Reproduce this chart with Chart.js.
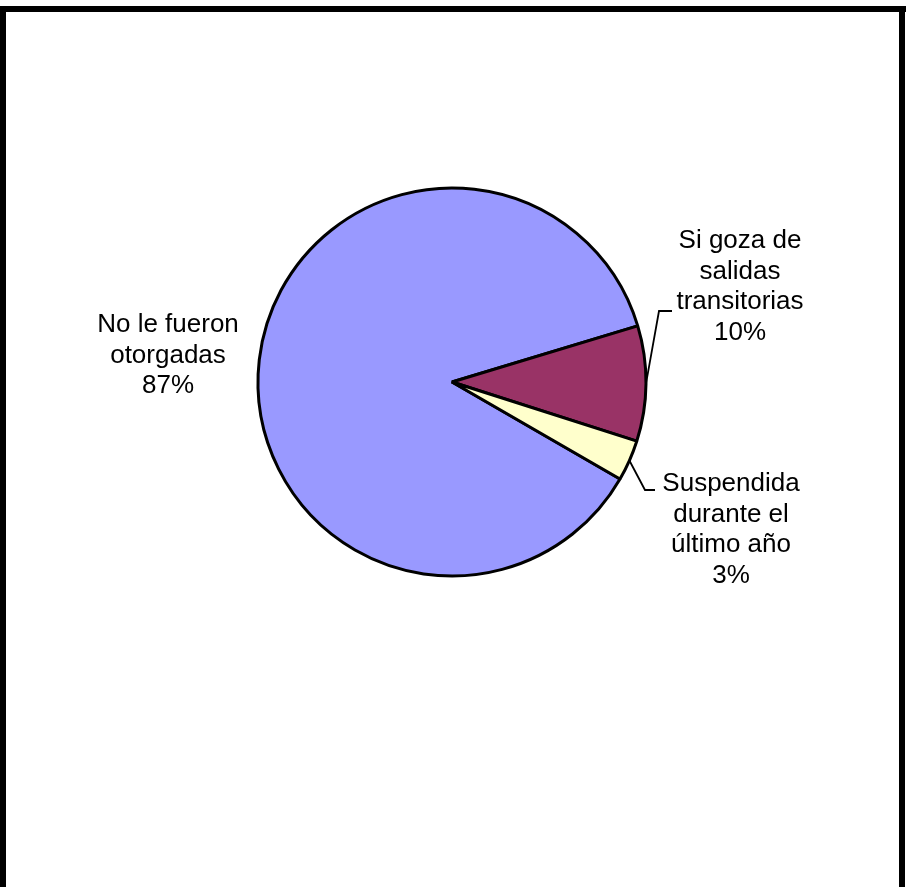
<!DOCTYPE html>
<html>
<head>
<meta charset="utf-8">
<script src="https://cdn.jsdelivr.net/npm/chart.js@4"></script>
<style>
  html, body { margin: 0; padding: 0; background: #ffffff; }
  #wrap { position: absolute; left: 0; top: 0; width: 906px; height: 887px; }
</style>
</head>
<body>
<div id="wrap"><canvas id="c" width="906" height="887"></canvas></div>
<script>
// ---- data ----
const categories = [
  "No le fueron otorgadas",
  "Si goza de salidas transitorias",
  "Suspendida durante el último año"
];
const labelLines = [
  ["No le fueron", "otorgadas"],
  ["Si goza de", "salidas", "transitorias"],
  ["Suspendida", "durante el", "último año"]
];
const values = [87.0, 9.6, 3.4];
const colors = ["#9999FF", "#993366", "#FFFFCC"];

// ---- label layout (positions relative to pie center) ----
const labelLayout = [
  { dx: -284, dy: -50, leader: null },
  { dx: 288, dy: -134, leader: { elbowDx: 207, elbowDy: -71, endDx: 220 } },
  { dx: 279, dy: 109, leader: { elbowDx: 193, elbowDy: 108, endDx: 203 } }
];

const framePlugin = {
  id: 'frame',
  beforeDraw(chart) {
    const ctx = chart.ctx;
    ctx.save();
    ctx.fillStyle = '#ffffff';
    ctx.fillRect(0, 0, chart.width, chart.height);
    ctx.fillStyle = '#000000';
    ctx.fillRect(0, 6, 906, 6);      // top
    ctx.fillRect(0, 6, 6, 881);      // left
    ctx.fillRect(899, 6, 6, 881);    // right
    ctx.restore();
  }
};

const labelPlugin = {
  id: 'pieLabels',
  afterDatasetsDraw(chart) {
    const ctx = chart.ctx;
    const meta = chart.getDatasetMeta(0);
    const total = values.reduce((a, b) => a + b, 0);
    ctx.save();
    ctx.font = '26px "Liberation Sans", Arial, sans-serif';
    ctx.fillStyle = '#000';
    ctx.textAlign = 'center';
    ctx.textBaseline = 'alphabetic';
    meta.data.forEach((arc, i) => {
      const p = arc.getProps(['x', 'y', 'startAngle', 'endAngle', 'outerRadius'], true);
      const L = labelLayout[i];
      const lines = labelLines[i].concat([Math.round(values[i] / total * 100) + '%']);
      const cx = p.x + L.dx;
      const lh = 30.5;
      lines.forEach((t, k) => {
        ctx.fillText(t, cx, p.y + L.dy + k * lh);
      });
      if (L.leader) {
        const mid = (p.startAngle + p.endAngle) / 2;
        const ex = p.x + Math.cos(mid) * p.outerRadius;
        const ey = p.y + Math.sin(mid) * p.outerRadius;
        ctx.beginPath();
        ctx.strokeStyle = '#000';
        ctx.lineWidth = 1.8;
        ctx.moveTo(ex, ey);
        ctx.lineTo(p.x + L.leader.elbowDx, p.y + L.leader.elbowDy);
        ctx.lineTo(p.x + L.leader.endDx, p.y + L.leader.elbowDy);
        ctx.stroke();
      }
    });
    ctx.restore();
  }
};

new Chart(document.getElementById('c'), {
  type: 'pie',
  data: {
    labels: categories,
    datasets: [{
      data: values,
      backgroundColor: colors,
      borderColor: '#000000',
      borderWidth: 3,
      hoverOffset: 0
    }]
  },
  options: {
    responsive: false,
    animation: false,
    devicePixelRatio: 1,
    rotation: 120,
    radius: 194,
    layout: { padding: { left: 200, right: 202, top: 180, bottom: 303 } },
    plugins: {
      legend: { display: false },
      tooltip: { enabled: false },
      title: { display: false }
    }
  },
  plugins: [framePlugin, labelPlugin]
});
</script>
</body>
</html>
